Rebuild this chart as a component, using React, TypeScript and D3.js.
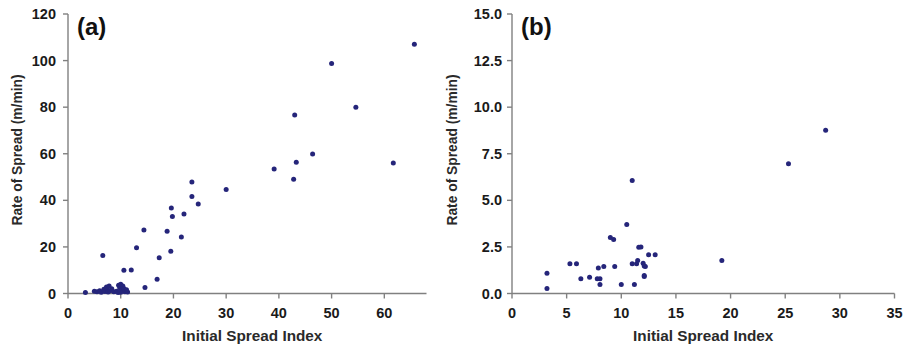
import React, { useEffect } from 'react'
import * as d3 from 'd3'

// panel (a): Initial Spread Index vs Rate of Spread (m/min)
const isiA = [65.7, 50.0, 54.6, 43.0, 46.4, 43.3, 61.7, 39.1, 42.8, 30.0, 23.5, 23.5, 24.7, 19.6, 19.8, 22.0,
  14.4, 18.8, 21.5, 13.0, 17.3, 19.5, 16.9, 14.6, 6.6, 10.6, 12.0,
  3.3, 5.0, 5.5, 6.0, 6.3, 6.8, 7.0, 7.3, 7.5, 7.6, 8.0, 8.3, 8.7, 9.2, 9.6, 9.8, 10.0, 10.2, 10.4, 10.6,
  10.8, 11.1, 11.3, 10.0, 9.5, 7.8]
const rosA = [107.0, 98.7, 80.0, 76.6, 59.9, 56.3, 56.0, 53.4, 49.1, 44.6, 47.9, 41.6, 38.4, 36.7, 33.1, 34.1,
  27.3, 26.7, 24.3, 19.6, 15.3, 18.1, 6.1, 2.6, 16.3, 10.0, 10.1,
  0.4, 1.0, 0.8, 1.2, 0.5, 1.8, 0.9, 2.8, 1.5, 0.6, 1.2, 2.0, 0.7, 1.0, 3.5, 2.5, 4.0, 1.5, 3.2, 2.2,
  0.8, 1.6, 0.6, 0.5, 0.4, 3.2]

// panel (b)
const isiB = [28.7, 25.3, 19.2, 12.5, 13.1, 12.0, 12.2, 12.1, 11.8, 3.2, 3.2, 5.3, 5.9, 6.3, 7.1, 7.8, 8.05,
  7.9, 8.05, 8.4, 9.0, 9.3, 9.4, 10.0, 10.5, 11.0, 11.2, 11.5, 11.4, 11.6, 12.1, 12.1, 11.0]
const rosB = [8.76, 6.97, 1.77, 2.08, 2.08, 1.63, 1.45, 0.91, 2.49, 1.09, 0.27, 1.59, 1.59, 0.79, 0.87, 0.79, 0.79,
  1.37, 0.48, 1.45, 3.0, 2.9, 1.45, 0.48, 3.7, 1.59, 0.48, 1.77, 1.59, 2.48, 1.48, 0.97, 6.06]

const ticksXA = [0, 10, 20, 30, 40, 50, 60]
const ticksYA = [0, 20, 40, 60, 80, 100, 120]
const ticksXB = [0, 5, 10, 15, 20, 25, 30, 35]
const ticksYB = [0, 2.5, 5, 7.5, 10, 12.5, 15]

const FONT = 'Arial, "Liberation Sans", sans-serif'
const AXIS = '#808080'
const DOT = '#25257a'

type PanelProps = {
  label: string
  xs: number[]
  ys: number[]
  xDomain: [number, number]
  yDomain: [number, number]
  xTicks: number[]
  yTicks: number[]
  yFmt: (v: number) => string
  left: number
  right: number
  yLabelEnd: number
  yTitleX: number
}

const Panel = ({ label, xs, ys, xDomain, yDomain, xTicks, yTicks, yFmt, left, right, yLabelEnd, yTitleX }: PanelProps) => {
  const top = 14
  const bottom = 293.5
  const x = d3.scaleLinear().domain(xDomain).range([left, right])
  const y = d3.scaleLinear().domain(yDomain).range([bottom, top])

  return (
    <g>
      {/* axes */}
      <line x1={left} x2={left} y1={top} y2={bottom} stroke={AXIS} strokeWidth={1.4} />
      <line x1={left} x2={right} y1={bottom} y2={bottom} stroke={AXIS} strokeWidth={1.4} />
      {yTicks.map(t => (
        <g key={'y' + t}>
          <line x1={left - 5} x2={left} y1={y(t)} y2={y(t)} stroke={AXIS} strokeWidth={1.4} />
          <text x={yLabelEnd} y={y(t)} dy="0.35em" textAnchor="end" fontSize={14.5} fontWeight="bold"
            fontFamily={FONT} fill="#1a1a1a">{yFmt(t)}</text>
        </g>
      ))}
      {xTicks.map(t => (
        <g key={'x' + t}>
          <line x1={x(t)} x2={x(t)} y1={bottom} y2={bottom + 5} stroke={AXIS} strokeWidth={1.4} />
          <text x={x(t)} y={313} dy="0.35em" textAnchor="middle" fontSize={14.5} fontWeight="bold"
            fontFamily={FONT} fill="#1a1a1a">{t}</text>
        </g>
      ))}
      {/* points */}
      {xs.map((v, i) => (
        <circle key={i} cx={x(v)} cy={y(ys[i])} r={2.5} fill={DOT} />
      ))}
      <text x={left + 9} y={35} fontSize={24} fontWeight="bold" fontFamily={FONT} fill="#111">{label}</text>
      <text x={(left + right) / 2 + (label === '(a)' ? 5 : 0)} y={341} textAnchor="middle" fontSize={15.3}
        fontWeight="bold" fontFamily={FONT} fill="#2a2a2a">Initial Spread Index</text>
      <text transform={`translate(${yTitleX},150) rotate(-90)`} textAnchor="middle" dy="0.35em" fontSize={13.8}
        fontWeight="bold" fontFamily={FONT} fill="#2a2a2a">Rate of Spread (m/min)</text>
    </g>
  )
}

const App = () => {
  useEffect(() => {
    document.body.style.margin = '0'
  }, [])

  return (
    <svg width={906} height={345} style={{ display: 'block', background: '#fff' }}>
      <Panel label="(a)" xs={isiA} ys={rosA} xDomain={[0, 68]} yDomain={[0, 120]}
        xTicks={ticksXA} yTicks={ticksYA} yFmt={v => String(v)} left={68} right={426.5}
        yLabelEnd={56} yTitleX={17} />
      <Panel label="(b)" xs={isiB} ys={rosB} xDomain={[0, 35]} yDomain={[0, 15]}
        xTicks={ticksXB} yTicks={ticksYB} yFmt={v => v.toFixed(1)} left={512} right={894.5}
        yLabelEnd={502} yTitleX={452} />
    </svg>
  )
}

export default App
